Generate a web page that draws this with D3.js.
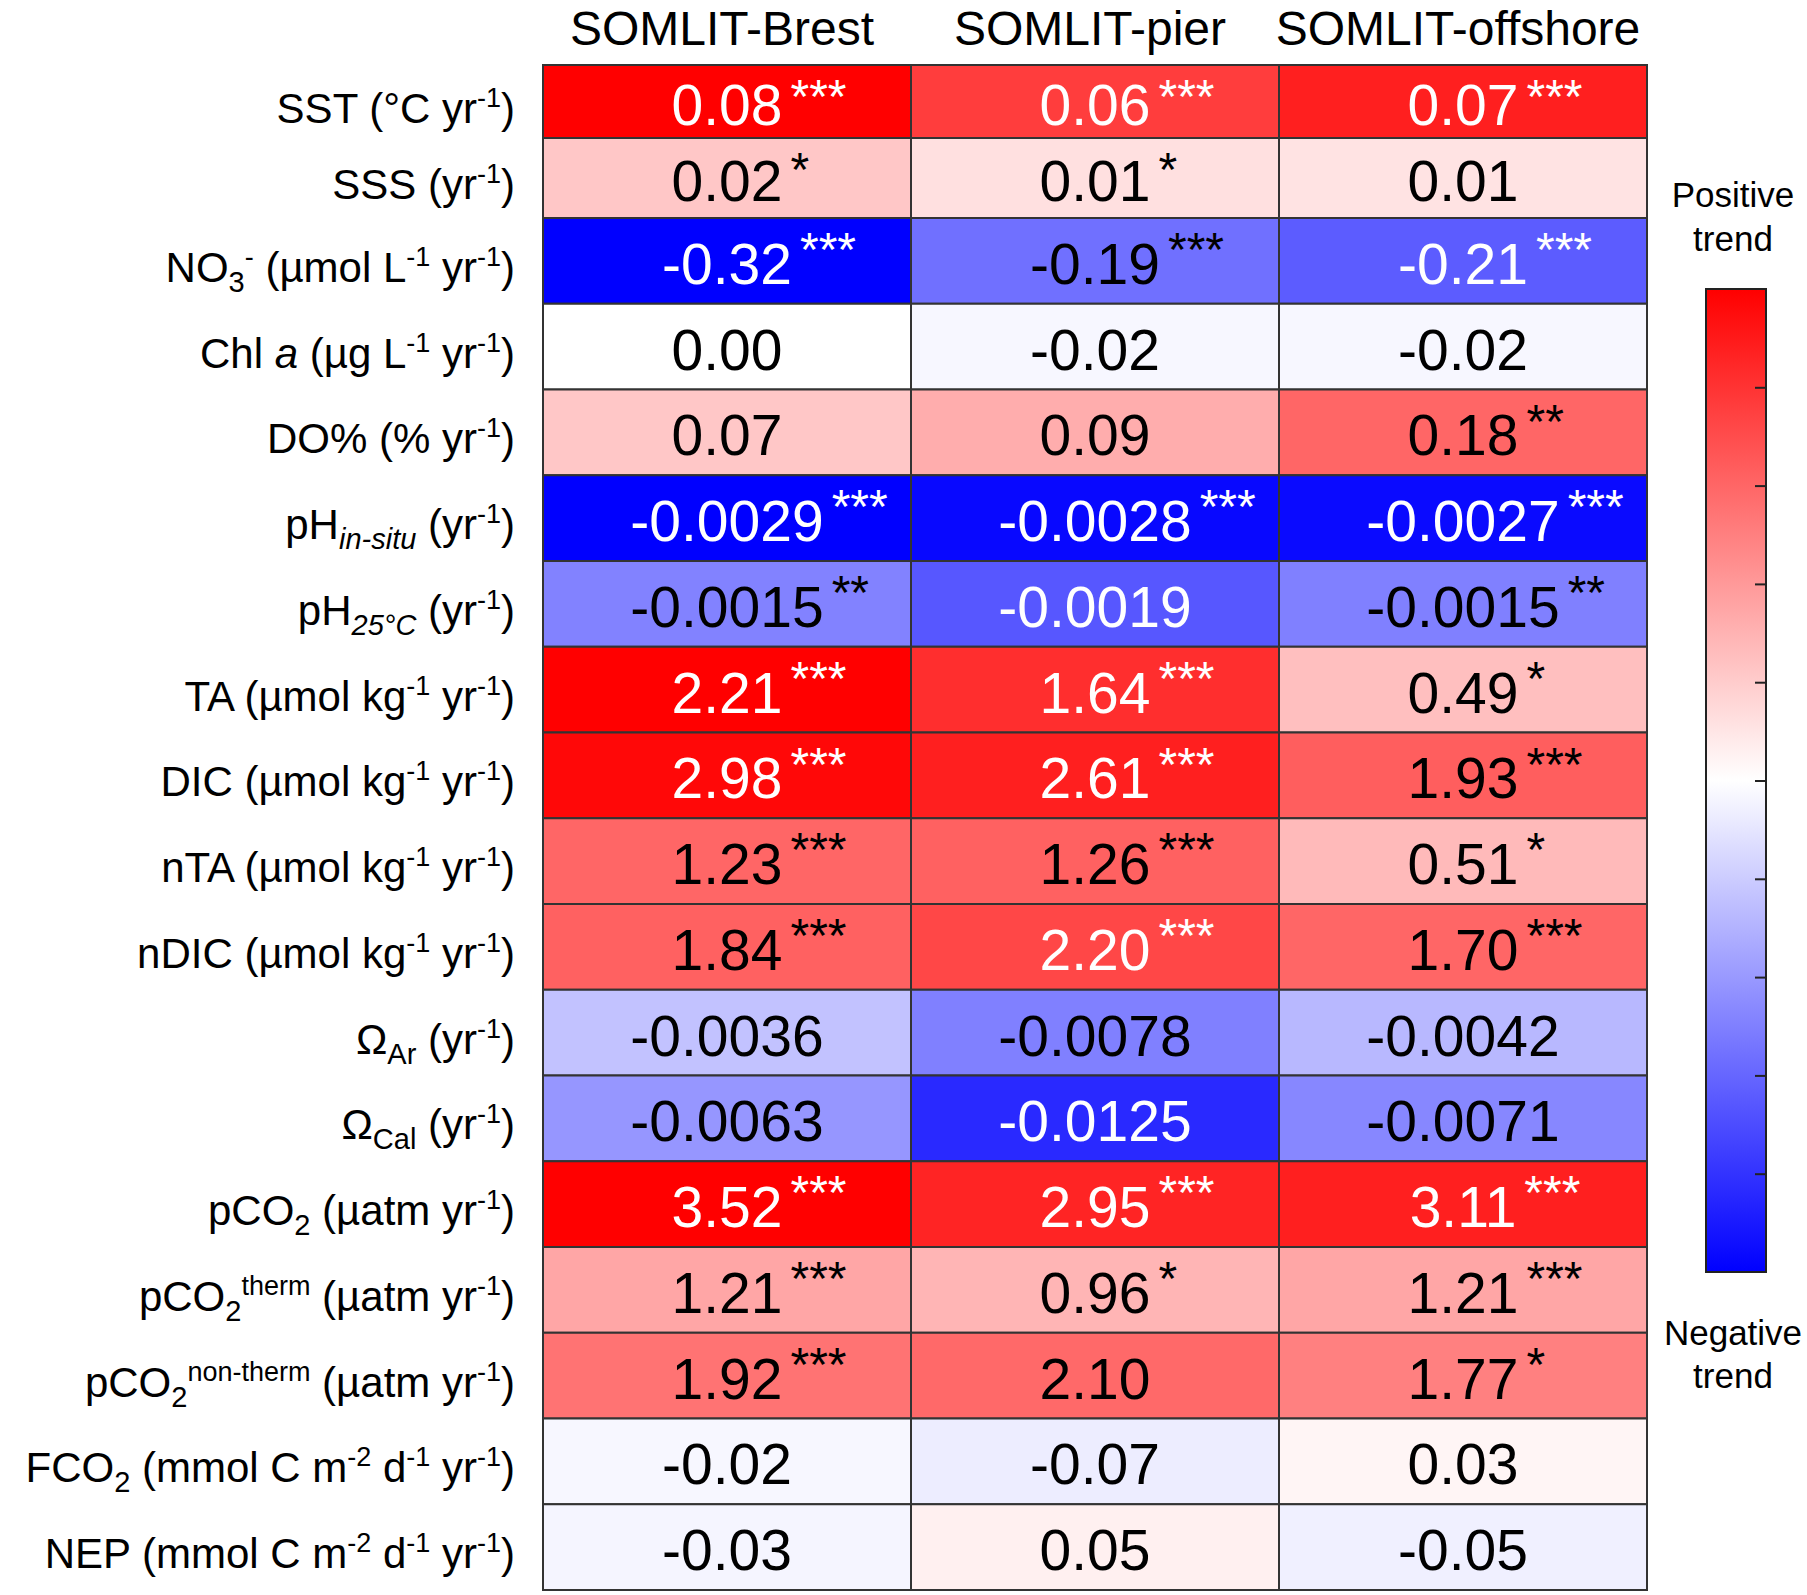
<!DOCTYPE html>
<html>
<head>
<meta charset="utf-8">
<script src="https://cdn.jsdelivr.net/npm/d3@7"></script>
<style>
  body { margin: 0; background: #fff; }
  text { font-family: "Liberation Sans", Arial, sans-serif; }
</style>
</head>
<body>
<div id="chart"></div>
<script>
// sites (columns)
const sites = ["SOMLIT-Brest", "SOMLIT-pier", "SOMLIT-offshore"];

// row labels, as [text, style] pieces: n = normal, sup, sub, i = italic, subi = italic subscript
const rowLabels = [
  [["SST (°C yr", "n"], ["-1", "sup"], [")", "n"]],
  [["SSS (yr", "n"], ["-1", "sup"], [")", "n"]],
  [["NO", "n"], ["3", "sub"], ["-", "sup"], [" (µmol L", "n"], ["-1", "sup"], [" yr", "n"], ["-1", "sup"], [")", "n"]],
  [["Chl ", "n"], ["a", "i"], [" (µg L", "n"], ["-1", "sup"], [" yr", "n"], ["-1", "sup"], [")", "n"]],
  [["DO% (% yr", "n"], ["-1", "sup"], [")", "n"]],
  [["pH", "n"], ["in-situ", "subi"], [" (yr", "n"], ["-1", "sup"], [")", "n"]],
  [["pH", "n"], ["25°C", "subi"], [" (yr", "n"], ["-1", "sup"], [")", "n"]],
  [["TA (µmol kg", "n"], ["-1", "sup"], [" yr", "n"], ["-1", "sup"], [")", "n"]],
  [["DIC (µmol kg", "n"], ["-1", "sup"], [" yr", "n"], ["-1", "sup"], [")", "n"]],
  [["nTA (µmol kg", "n"], ["-1", "sup"], [" yr", "n"], ["-1", "sup"], [")", "n"]],
  [["nDIC (µmol kg", "n"], ["-1", "sup"], [" yr", "n"], ["-1", "sup"], [")", "n"]],
  [["Ω", "n"], ["Ar", "sub"], [" (yr", "n"], ["-1", "sup"], [")", "n"]],
  [["Ω", "n"], ["Cal", "sub"], [" (yr", "n"], ["-1", "sup"], [")", "n"]],
  [["pCO", "n"], ["2", "sub"], [" (µatm yr", "n"], ["-1", "sup"], [")", "n"]],
  [["pCO", "n"], ["2", "sub"], ["therm", "sup"], [" (µatm yr", "n"], ["-1", "sup"], [")", "n"]],
  [["pCO", "n"], ["2", "sub"], ["non-therm", "sup"], [" (µatm yr", "n"], ["-1", "sup"], [")", "n"]],
  [["FCO", "n"], ["2", "sub"], [" (mmol C m", "n"], ["-2", "sup"], [" d", "n"], ["-1", "sup"], [" yr", "n"], ["-1", "sup"], [")", "n"]],
  [["NEP (mmol C m", "n"], ["-2", "sup"], [" d", "n"], ["-1", "sup"], [" yr", "n"], ["-1", "sup"], [")", "n"]]
];

// trend values as printed
const brestTrend    = ["0.08", "0.02", "-0.32", "0.00", "0.07", "-0.0029", "-0.0015", "2.21", "2.98", "1.23", "1.84", "-0.0036", "-0.0063", "3.52", "1.21", "1.92", "-0.02", "-0.03"];
const pierTrend     = ["0.06", "0.01", "-0.19", "-0.02", "0.09", "-0.0028", "-0.0019", "1.64", "2.61", "1.26", "2.20", "-0.0078", "-0.0125", "2.95", "0.96", "2.10", "-0.07", "0.05"];
const offshoreTrend = ["0.07", "0.01", "-0.21", "-0.02", "0.18", "-0.0027", "-0.0015", "0.49", "1.93", "0.51", "1.70", "-0.0042", "-0.0071", "3.11", "1.21", "1.77", "0.03", "-0.05"];

// significance stars
const brestSig    = ["***", "*", "***", "", "", "***", "**", "***", "***", "***", "***", "", "", "***", "***", "***", "", ""];
const pierSig     = ["***", "*", "***", "", "", "***", "", "***", "***", "***", "***", "", "", "***", "*", "", "", ""];
const offshoreSig = ["***", "", "***", "", "**", "***", "**", "*", "***", "*", "***", "", "", "***", "***", "*", "", ""];

// scaled trend (-1 negative .. +1 positive)
const brestScaled    = [1.0, 0.22, -1.0, 0.0, 0.22, -1.0, -0.49, 1.0, 0.97, 0.6, 0.62, -0.24, -0.41, 1.0, 0.35, 0.55, -0.03, -0.04];
const pierScaled     = [0.76, 0.12, -0.56, -0.03, 0.32, -0.97, -0.66, 0.82, 0.88, 0.62, 0.72, -0.5, -0.84, 0.86, 0.29, 0.59, -0.07, 0.06];
const offshoreScaled = [0.88, 0.11, -0.64, -0.03, 0.6, -0.96, -0.5, 0.25, 0.63, 0.27, 0.6, -0.28, -0.47, 0.88, 0.35, 0.5, 0.04, -0.06];

const width = 1807, height = 1595;
const trends = [brestTrend, pierTrend, offshoreTrend];
const sigs = [brestSig, pierSig, offshoreSig];
const scaled = [brestScaled, pierScaled, offshoreScaled];

const cells = [];
sites.forEach((s, j) => {
  rowLabels.forEach((r, i) => {
    cells.push({site: s, row: i, text: trends[j][i], sig: sigs[j][i], v: scaled[j][i]});
  });
});

const svg = d3.select("#chart").append("svg")
  .attr("width", width)
  .attr("height", height)
  .style("background", "#fff");

// scales
const x = d3.scaleBand().domain(sites).range([543, 1647]);
// the two top rows are a little shorter in the original
const y = d3.scaleLinear().domain([0, 1, 2, rowLabels.length]).range([65, 138, 218, 1590]);
const color = d3.scaleLinear().domain([-1, 0, 1]).range(["#0000ff", "#ffffff", "#ff0000"]);

//cells
svg.append("g").selectAll("rect")
  .data(cells)
  .join("rect")
  .attr("x", d => x(d.site))
  .attr("y", d => y(d.row))
  .attr("width", x.bandwidth())
  .attr("height", d => y(d.row + 1) - y(d.row))
  .attr("fill", d => color(d.v))
  .attr("stroke", "#333")
  .attr("stroke-width", 2);

//values
const vals = svg.append("g").selectAll("g")
  .data(cells)
  .join("g")
  .attr("transform", d => `translate(${x(d.site) + x.bandwidth() / 2},${(y(d.row) + y(d.row + 1)) / 2 + 23})`);

vals.append("text")
  .attr("class", "num")
  .attr("text-anchor", "middle")
  .attr("font-size", 57)
  .attr("fill", d => Math.abs(d.v) >= 0.64 ? "#fff" : "#000")
  .text(d => d.text);

vals.each(function(d) {
  if (!d.sig) return;
  const g = d3.select(this);
  const w = g.select("text.num").node().getComputedTextLength();
  const rowMid = (y(d.row) + y(d.row + 1)) / 2 + 23;
  g.append("text")
    .attr("x", w / 2 + 8)
    .attr("y", y(d.row) + 48 - rowMid)
    .attr("font-size", 48)
    .attr("fill", Math.abs(d.v) >= 0.64 ? "#fff" : "#000")
    .text(d.sig);
});

//column headers
svg.append("g").selectAll("text")
  .data(sites)
  .join("text")
  .attr("x", d => x(d) + x.bandwidth() / 2 - 5)
  .attr("y", 45)
  .attr("text-anchor", "middle")
  .attr("font-size", 48)
  .attr("fill", "#000")
  .text(d => d);

//row labels with sub/superscripts
const baseSize = 42;
const styles = {
  n: {size: baseSize, off: 0, italic: false},
  i: {size: baseSize, off: 0, italic: true},
  sup: {size: 27, off: -16, italic: false},
  sub: {size: 29, off: 10, italic: false},
  subi: {size: 29, off: 10, italic: true}
};
const labelText = svg.append("g").selectAll("text")
  .data(rowLabels)
  .join("text")
  .attr("x", 515)
  .attr("y", (d, i) => (y(i) + y(i + 1)) / 2 + 21)
  .attr("text-anchor", "end")
  .attr("font-size", baseSize)
  .attr("fill", "#000");

labelText.each(function(parts) {
  let cur = 0;
  const t = d3.select(this);
  parts.forEach(([txt, st]) => {
    const s = styles[st];
    t.append("tspan")
      .attr("dy", s.off - cur)
      .attr("font-size", s.size)
      .attr("font-style", s.italic ? "italic" : null)
      .text(txt);
    cur = s.off;
  });
});

//colour bar
const cbX = 1706, cbW = 60, cbTop = 289, cbBottom = 1272;
const defs = svg.append("defs");
const grad = defs.append("linearGradient")
  .attr("id", "trendGrad")
  .attr("x1", 0).attr("y1", 1).attr("x2", 0).attr("y2", 0);
grad.selectAll("stop")
  .data([-1, 0, 1])
  .join("stop")
  .attr("offset", d => (d + 1) / 2)
  .attr("stop-color", d => color(d));

svg.append("rect")
  .attr("x", cbX)
  .attr("y", cbTop)
  .attr("width", cbW)
  .attr("height", cbBottom - cbTop)
  .attr("fill", "url(#trendGrad)")
  .attr("stroke", "#222")
  .attr("stroke-width", 2);

const cbScale = d3.scaleLinear().domain([-1, 1]).range([cbBottom, cbTop]);
const cbAxis = svg.append("g")
  .attr("transform", `translate(${cbX + cbW},0)`)
  .call(d3.axisLeft(cbScale)
    .tickValues(d3.range(-0.8, 0.81, 0.2))
    .tickSize(11)
    .tickFormat(""));
cbAxis.select(".domain").remove();
cbAxis.selectAll("line").attr("stroke", "#222").attr("stroke-width", 2);

const cbLabels = [["Positive", 207], ["trend", 251], ["Negative", 1345], ["trend", 1388]];
svg.append("g").selectAll("text")
  .data(cbLabels)
  .join("text")
  .attr("x", 1733)
  .attr("y", d => d[1])
  .attr("text-anchor", "middle")
  .attr("font-size", 35)
  .attr("fill", "#000")
  .text(d => d[0]);
</script>
</body>
</html>
